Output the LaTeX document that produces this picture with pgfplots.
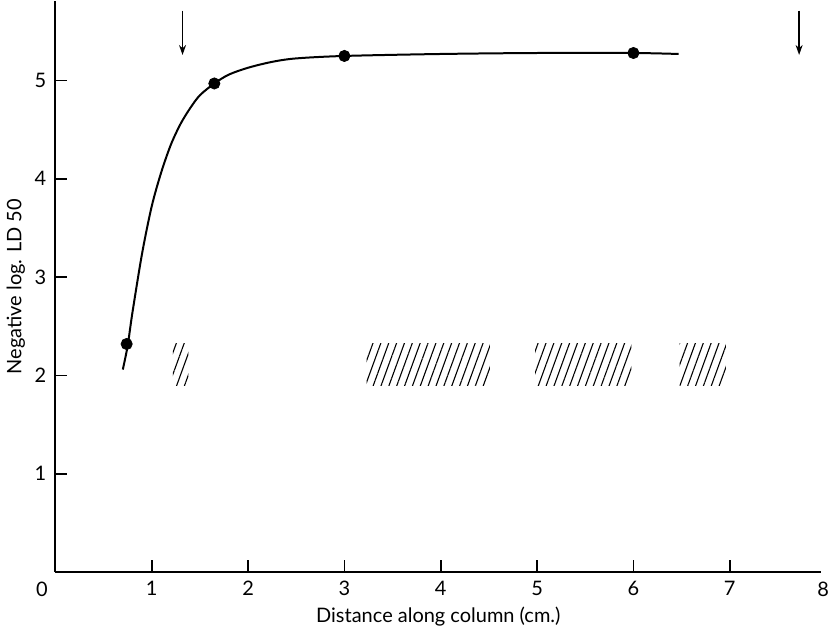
\documentclass[border=0pt]{standalone}
\usepackage{fontspec}
\setmainfont{Lato}
\usepackage{pgfplots}
\pgfplotsset{compat=1.18}
\usetikzlibrary{arrows.meta,patterns.meta}
\begin{document}
\begin{tikzpicture}
\begin{axis}[
  scale only axis,
  width=383.5pt, height=286pt,
  xmin=0, xmax=7.95, ymin=0, ymax=5.81,
  axis lines*=left,
  axis line style={line width=0.9pt},
  xtick={1,2,3,4,5,6,7},
  ytick={1,2,3,4,5},
  tick align=inside,
  major tick length=6pt,
  tick style={line width=0.8pt, black},
  tick label style={font=\normalsize},
  /pgf/number format/assume math mode=true,
  xticklabel style={yshift=-1pt},
  yticklabel style={xshift=-1pt},
  xlabel={Distance along column (cm.)},
  ylabel={Negative log. LD 50},
  xlabel style={yshift=1pt},
  ylabel style={yshift=-2pt},
  clip=false,
]
% hatched zones
\addplot[draw=none, pattern={Lines[angle=70,distance=3.7pt,line width=0.55pt]}]
  coordinates {(1.22,1.90) (1.38,1.90) (1.38,2.32) (1.22,2.32)} -- cycle;
\addplot[draw=none, pattern={Lines[angle=70,distance=3.7pt,line width=0.55pt]}]
  coordinates {(3.23,1.90) (4.51,1.90) (4.51,2.32) (3.23,2.32)} -- cycle;
\addplot[draw=none, pattern={Lines[angle=70,distance=3.7pt,line width=0.55pt]}]
  coordinates {(4.98,1.90) (5.98,1.90) (5.98,2.32) (4.98,2.32)} -- cycle;
\addplot[draw=none, pattern={Lines[angle=70,distance=3.7pt,line width=0.55pt]}]
  coordinates {(6.48,1.90) (6.96,1.90) (6.96,2.32) (6.48,2.32)} -- cycle;
% fitted curve
\addplot[black, line width=1pt, smooth, no marks] coordinates {
  (0.70,2.06) (0.75,2.30) (0.80,2.64) (0.90,3.24) (1.00,3.72) (1.10,4.07)
  (1.20,4.35) (1.30,4.56) (1.40,4.72) (1.50,4.85) (1.65,4.97) (1.80,5.06)
  (2.00,5.13) (2.25,5.19) (2.50,5.225) (3.00,5.25) (4.00,5.27) (5.00,5.28)
  (6.00,5.28) (6.47,5.27)};
% measured points
\addplot[only marks, mark=*, mark size=2.8pt, black] coordinates {
  (0.74,2.32) (1.65,4.97) (3.00,5.25) (6.00,5.28)};
% arrows
\draw[-{Stealth[length=5pt,width=3.5pt]}, line width=0.7pt] (axis cs:1.32,5.71) -- (axis cs:1.32,5.26);
\draw[-{Stealth[length=5pt,width=3.5pt]}, line width=0.7pt] (axis cs:7.72,5.71) -- (axis cs:7.72,5.26);
% end labels
\node[anchor=north, inner sep=0pt] at (axis cs:-0.14,-0.1) {0};
\node[anchor=north, inner sep=0pt] at (axis cs:7.97,-0.1) {8};
% page margin below the x label
\path (axis cs:4,0) -- ++(0,-28pt);
\end{axis}
\end{tikzpicture}
\end{document}
